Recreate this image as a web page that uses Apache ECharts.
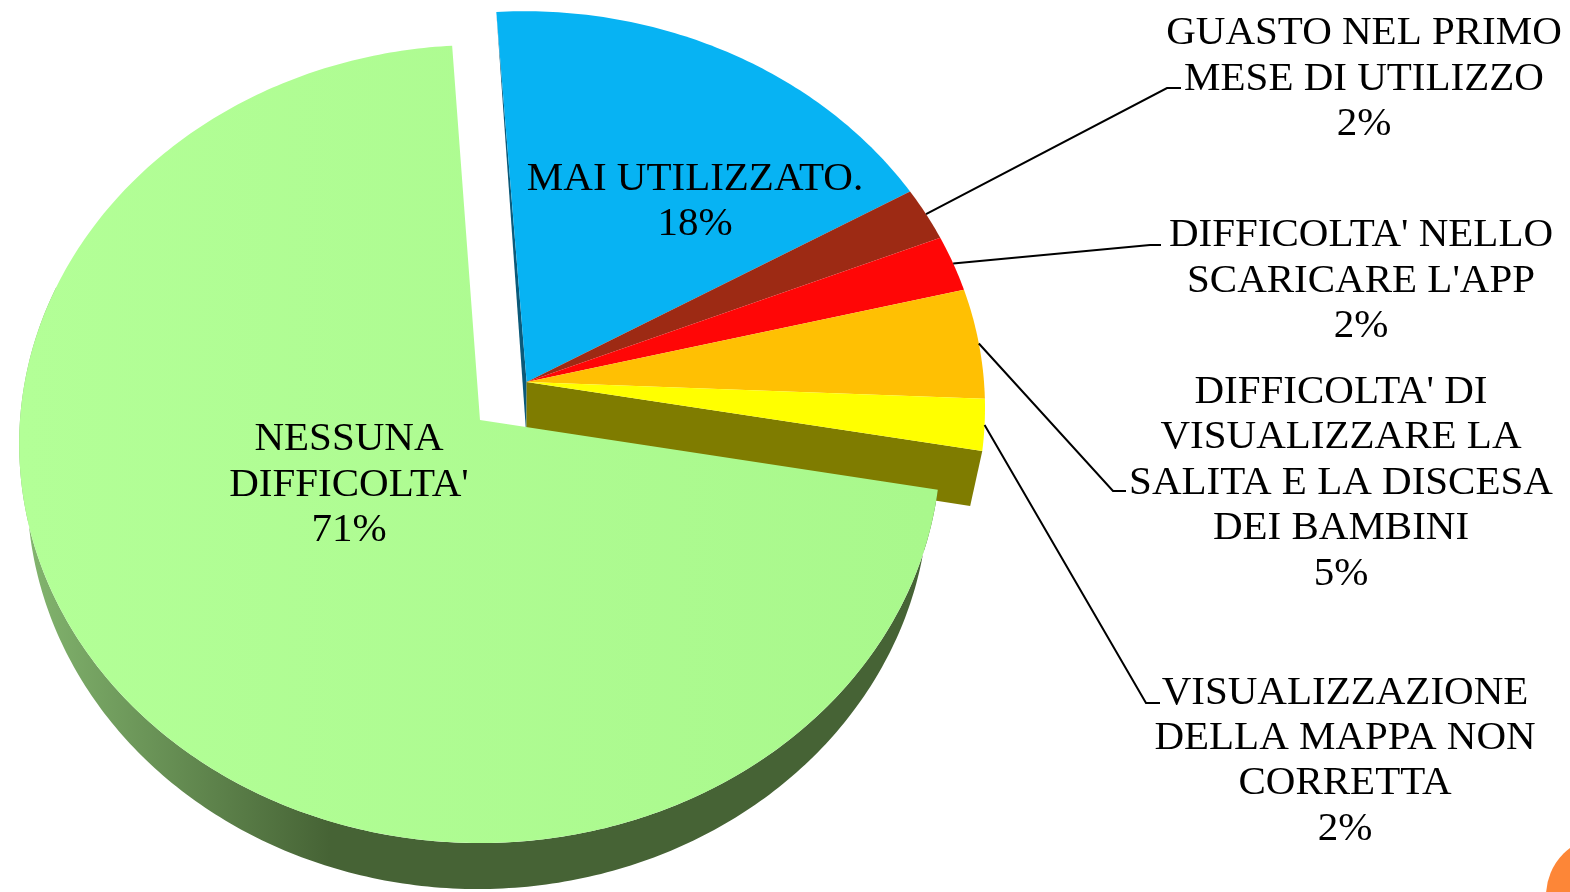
<!DOCTYPE html>
<html><head><meta charset="utf-8">
<style>html,body{margin:0;padding:0;background:#fff}#c{width:1570px;height:892px}</style>
<script src="https://cdn.jsdelivr.net/npm/echarts@6/dist/echarts.min.js"></script>
</head><body><div id="c"></div>
<script>
// ---- data ----
const categories = ["NESSUNA\nDIFFICOLTA'", "MAI UTILIZZATO.", "GUASTO NEL PRIMO\nMESE DI UTILIZZO", "DIFFICOLTA' NELLO\nSCARICARE L'APP", "DIFFICOLTA' DI\nVISUALIZZARE LA\nSALITA E LA DISCESA\nDEI BAMBINI", "VISUALIZZAZIONE\nDELLA MAPPA NON\nCORRETTA"];
const values = [71.2, 17.7, 2.2, 2.3, 4.5, 2.1];

// ---- styles and layout ----
const topColors = ['#b0fe94', '#07b3f3', '#9d2a14', '#ff0606', '#ffc003', '#ffff00'];
const labelCenters = [[349, 485], [695, 202], [1364, 79], [1361, 281], [1341, 483], [1345, 761]];
const leaderElbows = [null, null, [[1167, 88], [1181, 88]], [[1150, 245], [1161, 245]], [[1113, 491], [1126, 491]], [[1146, 703], [1160, 703]]];
const FONT = '"Liberation Serif", serif', FS = 41, LH = 45.4;
const START = 100, K = 0.06015, B = 397.6;
const planes = {
  top: { cx: 480, a: 460, cy: 420 },
  bottom: { cx: 478, a: 450, cy: 466 },
  smallBottom: { cx: 481, a: 448, cy: 475 }
};
const explode = [0.102, 0.096];

const total = values.reduce((a, b) => a + b, 0);
function spans() {
  let acc = START; return values.map(v => { const s = acc; acc += v / total * 360; return [s, acc]; });
}
const angleSpans = spans();
function proj(deg, r, plane, off) {
  const t = deg * Math.PI / 180;
  const u = r * Math.sin(t) + (off ? off[0] : 0), v = r * Math.cos(t) + (off ? off[1] : 0);
  const w = 1 + K * v;
  return [plane.cx + plane.a * u / w, plane.cy - B * v / w];
}
function arc(s, e, plane, off) {
  const pts = [], n = Math.max(4, Math.ceil((e - s) / 0.75));
  for (let i = 0; i <= n; i++) pts.push(proj(s + (e - s) * i / n, 1, plane, off));
  return pts;
}
const hGrad = (x0, x1, stops) => ({ type: 'linear', x: x0, y: 0, x2: x1, y2: 0, global: true, colorStops: stops });

function renderSlice(params, api) {
  const i = api.value(0);
  const [s, e] = angleSpans[i];
  const children = [];
  if (i === 0) {
    const sideTop = arc(s, 290, planes.top), sideBottom = arc(s, 290, planes.bottom).reverse();
    children.push({ type: 'polygon', z2: 20, shape: { points: sideTop.concat(sideBottom) }, style: { fill: hGrad(30, 330, [{ offset: 0, color: '#82b46e' }, { offset: 1, color: '#466335' }]) } });
    children.push({ type: 'polygon', z2: 21, shape: { points: [proj(0, 0, planes.top)].concat(arc(s, e, planes.top)) }, style: { fill: hGrad(20, 930, [{ offset: 0, color: '#b3ff97' }, { offset: 1, color: '#a9f88c' }]) } });
  } else {
    const apex = proj(0, 0, planes.top, explode);
    if (i === 1) {
      children.push({ type: 'polygon', z2: 1, shape: { points: [proj(s, 1, planes.top, explode), apex, proj(0, 0, planes.smallBottom, explode)] }, style: { fill: '#0b5a7a' } });
    }
    if (i === values.length - 1) {
      children.push({ type: 'polygon', z2: 2, shape: { points: [apex, proj(e, 1, planes.top, explode), proj(e, 1, planes.smallBottom, explode), proj(0, 0, planes.smallBottom, explode)] }, style: { fill: '#7f7c00' } });
    }
    children.push({ type: 'polygon', z2: 5 + i, shape: { points: [apex].concat(arc(s, e, planes.top, explode)) }, style: { fill: topColors[i] } });
  }
  return { type: 'group', children };
}

function renderLabel(params, api) {
  const i = api.value(0);
  const [s, e] = angleSpans[i];
  const children = [];
  const elbows = leaderElbows[i];
  if (elbows) {
    const from = proj((s + e) / 2, 1, planes.top, explode);
    children.push({ type: 'polyline', z2: 30, shape: { points: [from].concat(elbows) }, style: { stroke: '#000', lineWidth: 2, fill: null } });
  }
  children.push({
    type: 'text', z2: 40,
    style: {
      text: categories[i] + '\n' + Math.round(values[i]) + '%',
      x: labelCenters[i][0], y: labelCenters[i][1], align: 'center', verticalAlign: 'middle',
      font: FS + 'px ' + FONT, lineHeight: LH, fill: '#000'
    }
  });
  return { type: 'group', children };
}

const chart = echarts.init(document.getElementById('c'), null, { renderer: 'canvas' });
const idx = values.map((v, i) => [i, v]);
chart.setOption({
  backgroundColor: '#ffffff',
  animation: false,
  tooltip: { show: false },
  graphic: [{ type: 'circle', z: 1, shape: { cx: 1606, cy: 896, r: 60 }, style: { fill: '#fd8637' } }],
  series: [
    { type: 'custom', coordinateSystem: 'none', z: 2, silent: true, renderItem: renderSlice, data: idx.slice(1).concat([idx[0]]) },
    { type: 'custom', coordinateSystem: 'none', z: 3, silent: true, renderItem: renderLabel, data: idx }
  ]
});
</script></body></html>
